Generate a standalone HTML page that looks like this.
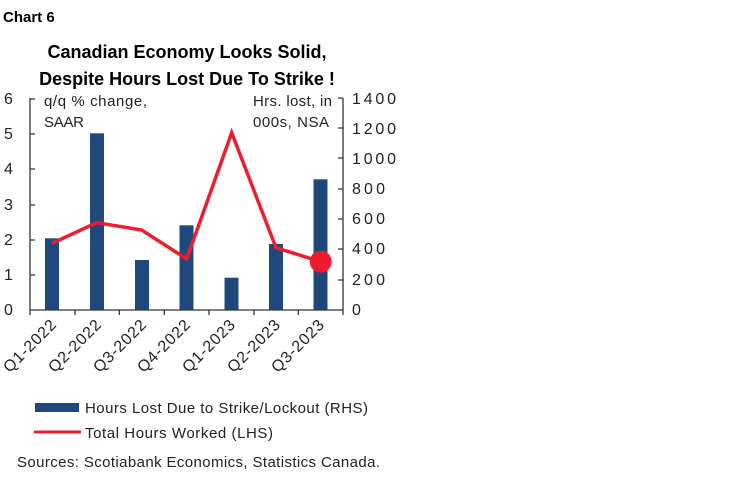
<!DOCTYPE html>
<html><head><meta charset="utf-8"><style>
body{margin:0;background:#fff;}
svg{display:block;font-family:"Liberation Sans",sans-serif;}
</style></head><body>
<svg width="750" height="482" viewBox="0 0 750 482">
<text x="3" y="22" font-size="15" font-weight="bold" fill="#000">Chart 6</text>
<text x="187" y="58" font-size="18" font-weight="bold" text-anchor="middle" fill="#000">Canadian Economy Looks Solid,</text>
<text x="187" y="85" font-size="18" font-weight="bold" text-anchor="middle" fill="#000">Despite Hours Lost Due To Strike !</text>
<g fill="#1f497d">
<rect x="45" y="238.3" width="14" height="71.7"/>
<rect x="90" y="133.3" width="14" height="176.7"/>
<rect x="135" y="260" width="14" height="50"/>
<rect x="179.5" y="225.3" width="14" height="84.7"/>
<rect x="224.5" y="277.7" width="14" height="32.3"/>
<rect x="269" y="244" width="14" height="66"/>
<rect x="313.5" y="179.3" width="14" height="130.7"/>
</g>
<g stroke="#333" stroke-width="1.3" fill="none">
<line x1="30" y1="98" x2="30" y2="310"/>
<line x1="343" y1="98" x2="343" y2="310"/>
<line x1="30" y1="310" x2="343" y2="310"/>
<path d="M30 99h5M30 134h5M30 169h5M30 205h5M30 240h5M30 275h5"/>
<path d="M343 98h-5M343 128h-5M343 158h-5M343 189h-5M343 219h-5M343 249h-5M343 280h-5"/>
<path d="M30 310v5M75 310v5M119.3 310v5M164.3 310v5M209 310v5M254 310v5M298.3 310v5M343 310v5"/>
</g>
<polyline points="52,243.3 96.7,222.7 141.7,230 186.7,259 231.7,132.7 276,247.7 320.7,261.7" fill="none" stroke="#ed1c2e" stroke-width="3.5" stroke-linejoin="miter"/>
<circle cx="320.7" cy="261.7" r="11" fill="#ed1c2e"/>
<g font-size="15" fill="#222">
<g font-size="16">
<text x="4" y="104">6</text><text x="4" y="139">5</text><text x="4" y="174">4</text><text x="4" y="210">3</text><text x="4" y="245">2</text><text x="4" y="280">1</text><text x="4" y="315">0</text>
<text x="352" y="104" textLength="44">1400</text><text x="352" y="134" textLength="44">1200</text><text x="352" y="164" textLength="44">1000</text><text x="352" y="194" textLength="33">800</text><text x="352" y="224" textLength="33">600</text><text x="352" y="254" textLength="33">400</text><text x="352" y="285" textLength="33">200</text><text x="352" y="315">0</text>
</g>
<text x="44" y="106" textLength="103">q/q % change,</text>
<text x="44" y="127" textLength="40">SAAR</text>
<text x="253" y="106" textLength="79">Hrs. lost, in</text>
<text x="253" y="127" textLength="76">000s, NSA</text>
<g text-anchor="end" font-size="16">
<text transform="translate(57,326) rotate(-45)" textLength="67">Q1-2022</text>
<text transform="translate(102,326) rotate(-45)" textLength="67">Q2-2022</text>
<text transform="translate(147,326) rotate(-45)" textLength="67">Q3-2022</text>
<text transform="translate(191,326) rotate(-45)" textLength="67">Q4-2022</text>
<text transform="translate(236,326) rotate(-45)" textLength="67">Q1-2023</text>
<text transform="translate(281,326) rotate(-45)" textLength="67">Q2-2023</text>
<text transform="translate(325,326) rotate(-45)" textLength="67">Q3-2023</text>
</g>
<rect x="35" y="403" width="44" height="9" fill="#1f497d"/>
<text x="85" y="413" textLength="283">Hours Lost Due to Strike/Lockout (RHS)</text>
<line x1="34" y1="432" x2="81" y2="432" stroke="#ed1c2e" stroke-width="3"/>
<text x="85" y="438" textLength="188">Total Hours Worked (LHS)</text>
<text x="17" y="467" textLength="363">Sources: Scotiabank Economics, Statistics Canada.</text>
</g>
</svg>
</body></html>
